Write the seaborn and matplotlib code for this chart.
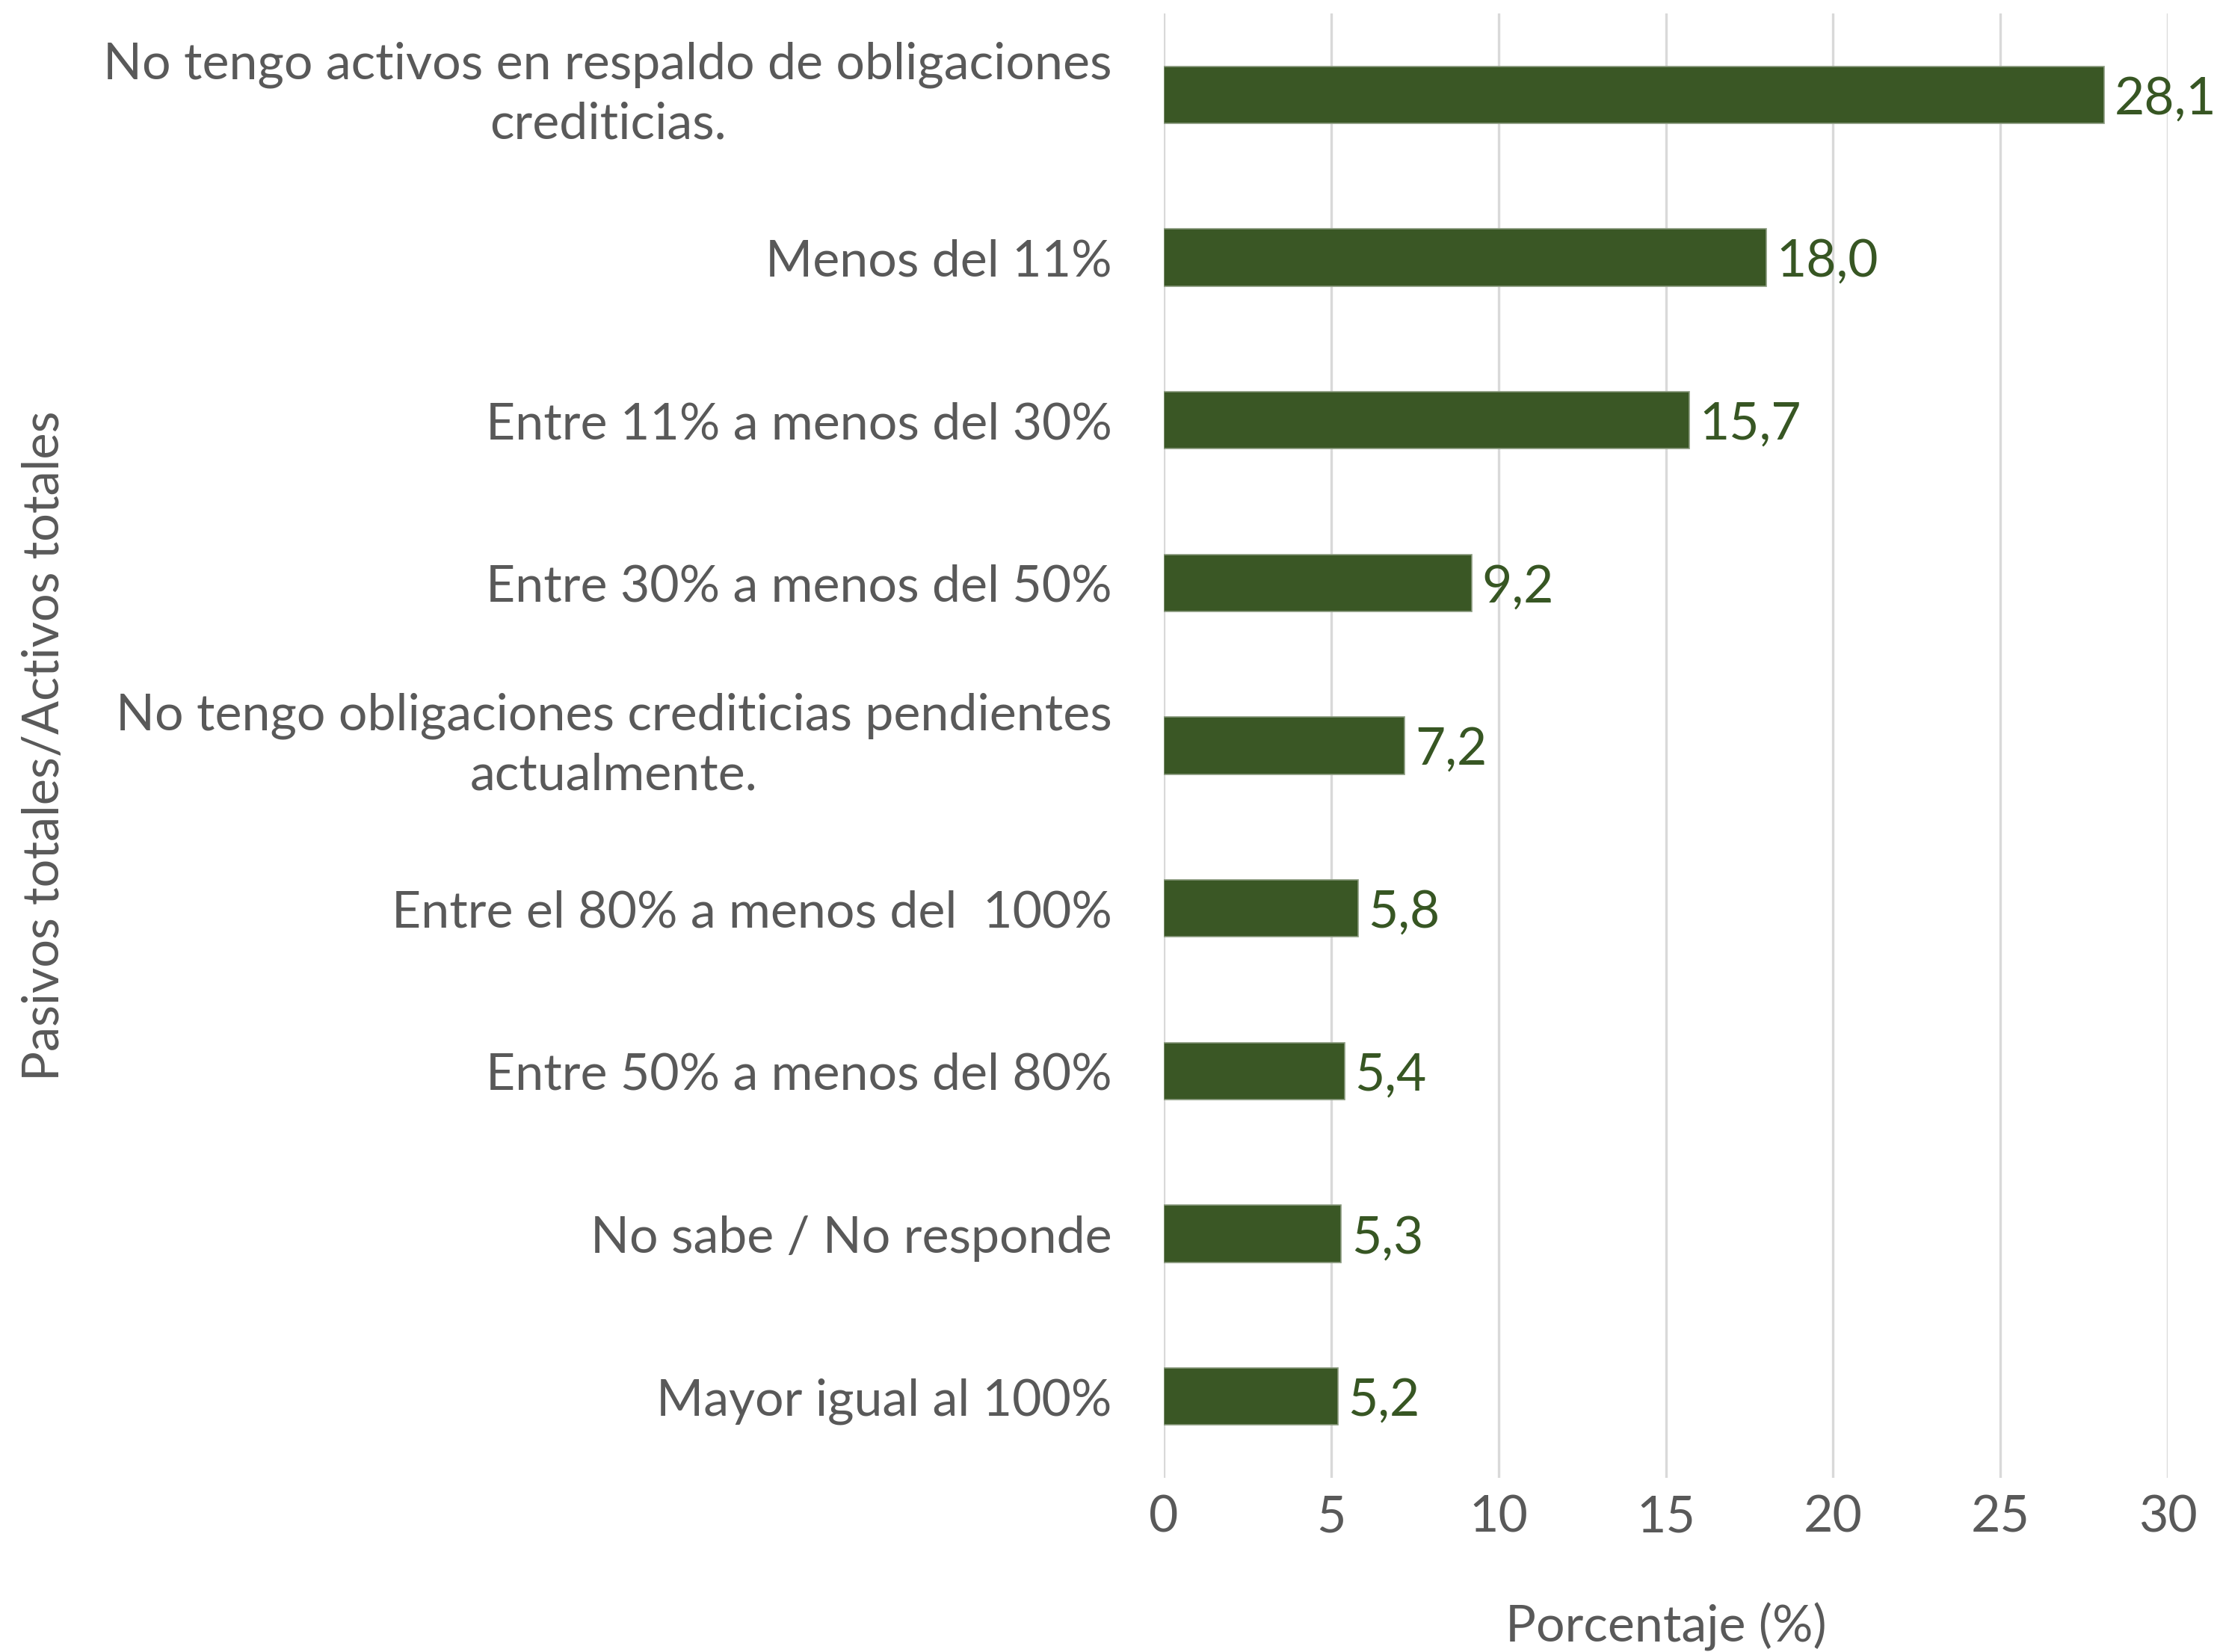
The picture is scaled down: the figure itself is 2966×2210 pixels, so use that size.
import numpy as np
import pandas as pd
import matplotlib
matplotlib.use("Agg")
import matplotlib.pyplot as plt
import seaborn as sns

# Data (top to bottom as in the chart)
categories = [
    "No tengo activos en respaldo de obligaciones\ncrediticias.",
    "Menos del 11%",
    "Entre 11% a menos del 30%",
    "Entre 30% a menos del 50%",
    "No tengo obligaciones crediticias pendientes\nactualmente.",
    "Entre el 80% a menos del  100%",
    "Entre 50% a menos del 80%",
    "No sabe / No responde",
    "Mayor igual al 100%",
]
values = [28.1, 18.0, 15.7, 9.2, 7.2, 5.8, 5.4, 5.3, 5.2]
x_ticks = [0, 5, 10, 15, 20, 25, 30]

df = pd.DataFrame({"categoria": categories, "porcentaje": values})

bar_color = "#3A5725"
text_gray = "#595959"

sns.set_style("white")
plt.rcParams["font.family"] = ["Lato", "DejaVu Sans"]

fig = plt.figure(figsize=(14.83, 11.05), dpi=200)
ax = fig.add_axes([0.525, 0.1054, 0.4528, 0.8865])

sns.barplot(data=df, x="porcentaje", y="categoria", order=categories,
            color=bar_color, saturation=1, width=0.35, ax=ax,
            edgecolor="#8a9a7e", linewidth=0.6, zorder=3)

ax.set_xlim(0, 30)
ax.set_ylim(len(categories) - 0.5, -0.5)
ax.set_xticks(x_ticks)
ax.set_xticklabels([str(t) for t in x_ticks])
ax.grid(axis="x", color="#d9d9d9", linewidth=1.2, zorder=0)
ax.grid(axis="y", visible=False)
for s in ax.spines.values():
    s.set_visible(False)

ax.tick_params(axis="x", length=0, pad=8, labelsize=24.5, labelcolor=text_gray)
ax.tick_params(axis="y", length=0, pad=25, labelsize=24.5, labelcolor=text_gray)
# two-line labels: centre the lines and the block on the bar
for lbl in ax.get_yticklabels():
    if "\n" in lbl.get_text():
        lbl.set_multialignment("center")
        lbl.set_linespacing(1.36)
        lbl.set_verticalalignment("center")

# value labels
for i, v in enumerate(values):
    ax.text(v + 0.3, i, f"{v:.1f}".replace(".", ","), va="center_baseline",
            ha="left", fontsize=25, color="#375623", clip_on=False)

ax.set_xlabel("Porcentaje (%)", fontsize=24.5, color=text_gray)
ax.xaxis.set_label_coords(0.5, -0.085)
ax.set_ylabel("Pasivos totales/Activos totales", fontsize=24, color=text_gray)
ax.yaxis.set_label_coords(-1.092, 0.5)

fig.savefig("out.png", dpi=200)
